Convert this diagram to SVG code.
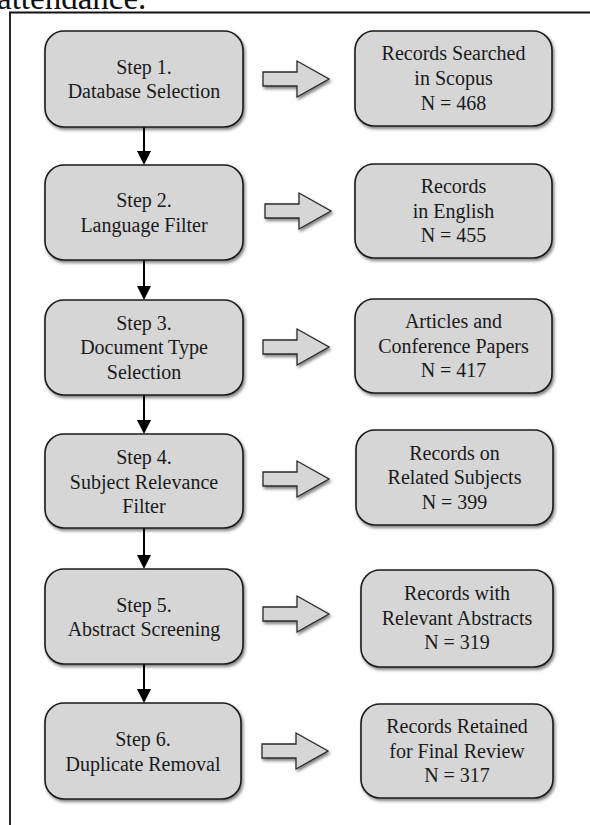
<svg xmlns="http://www.w3.org/2000/svg" width="590" height="825" viewBox="0 0 590 825">
  <defs>
    <style>
      .box { fill: #d6d6d6; stroke: #1a1a1a; stroke-width: 1.6; filter: url(#shadow); }
      .blk { fill: #d6d6d6; stroke: #2a2a2a; stroke-width: 1.3; filter: url(#shadow); }
      .lbl { font-family: "Liberation Serif", "DejaVu Serif", serif; font-size: 20px; fill: #1a1a1a; text-anchor: middle; }
      .conn { stroke: #000; stroke-width: 2; fill: none; marker-end: url(#ah); }
      .frame { stroke: #111; stroke-width: 1.8; fill: none; }
      .head { font-family: "Liberation Serif", "DejaVu Serif", serif; font-size: 33px; fill: #111; }
    </style>
    <filter id="shadow" x="-10%" y="-10%" width="125%" height="130%">
      <feDropShadow dx="1.5" dy="2.2" stdDeviation="1.6" flood-color="#000" flood-opacity="0.5"/>
    </filter>
    <marker id="ah" markerUnits="userSpaceOnUse" markerWidth="14" markerHeight="14" refX="12" refY="7" orient="auto">
      <path d="M0,0 L14,7 L0,14 Z" fill="#000"/>
    </marker>
  </defs>

  <rect x="0" y="0" width="590" height="825" fill="#fff"/>
  <text class="head" x="-3" y="9">attendance.</text>
  <path class="frame" d="M 592 12.5 H 10 V 827"/>

  <g id="connectors">
    <line class="conn" x1="144" y1="127" x2="144" y2="163"/>
    <line class="conn" x1="144" y1="260" x2="144" y2="298"/>
    <line class="conn" x1="144" y1="395" x2="144" y2="432"/>
    <line class="conn" x1="144" y1="528" x2="144" y2="567"/>
    <line class="conn" x1="144" y1="664" x2="144" y2="701"/>
    <path class="blk" d="M263 72 H297 V61 L329 79 L297 97 V86 H263 Z"/>
    <path class="blk" d="M265 204 H299 V193 L331 211 L299 229 V218 H265 Z"/>
    <path class="blk" d="M263 340 H297 V329 L329 347 L297 365 V354 H263 Z"/>
    <path class="blk" d="M263 472 H297 V461 L329 479 L297 497 V486 H263 Z"/>
    <path class="blk" d="M263 607 H297 V596 L329 614 L297 632 V621 H263 Z"/>
    <path class="blk" d="M262 744 H296 V733 L328 751 L296 769 V758 H262 Z"/>
  </g>

  <g id="step1">
    <rect class="box" x="45" y="31" width="198" height="96" rx="19"/>
    <text class="lbl" x="144" y="74">Step 1.</text>
    <text class="lbl" x="144" y="98">Database Selection</text>
  </g>
  <g id="result1">
    <rect class="box" x="355" y="31" width="197" height="95" rx="19"/>
    <text class="lbl" x="453.5" y="60">Records Searched</text>
    <text class="lbl" x="453.5" y="85">in Scopus</text>
    <text class="lbl" x="453.5" y="110">N = 468</text>
  </g>

  <g id="step2">
    <rect class="box" x="45" y="165" width="198" height="95" rx="19"/>
    <text class="lbl" x="144" y="207">Step 2.</text>
    <text class="lbl" x="144" y="231.5">Language Filter</text>
  </g>
  <g id="result2">
    <rect class="box" x="355" y="164" width="197" height="94" rx="19"/>
    <text class="lbl" x="453.5" y="193">Records</text>
    <text class="lbl" x="453.5" y="217.5">in English</text>
    <text class="lbl" x="453.5" y="242">N = 455</text>
  </g>

  <g id="step3">
    <rect class="box" x="45" y="300" width="198" height="95" rx="19"/>
    <text class="lbl" x="144" y="329.5">Step 3.</text>
    <text class="lbl" x="144" y="354">Document Type</text>
    <text class="lbl" x="144" y="378.5">Selection</text>
  </g>
  <g id="result3">
    <rect class="box" x="355" y="299" width="197" height="94" rx="19"/>
    <text class="lbl" x="453.5" y="328">Articles and</text>
    <text class="lbl" x="453.5" y="352.5">Conference Papers</text>
    <text class="lbl" x="453.5" y="377">N = 417</text>
  </g>

  <g id="step4">
    <rect class="box" x="45" y="434" width="198" height="94" rx="19"/>
    <text class="lbl" x="144" y="464">Step 4.</text>
    <text class="lbl" x="144" y="488.5">Subject Relevance</text>
    <text class="lbl" x="144" y="513">Filter</text>
  </g>
  <g id="result4">
    <rect class="box" x="356" y="430" width="197" height="95" rx="19"/>
    <text class="lbl" x="454.5" y="459.5">Records on</text>
    <text class="lbl" x="454.5" y="484">Related Subjects</text>
    <text class="lbl" x="454.5" y="508.5">N = 399</text>
  </g>

  <g id="step5">
    <rect class="box" x="45" y="569" width="198" height="95" rx="19"/>
    <text class="lbl" x="144" y="611.5">Step 5.</text>
    <text class="lbl" x="144" y="636">Abstract Screening</text>
  </g>
  <g id="result5">
    <rect class="box" x="361" y="570" width="192" height="97" rx="19"/>
    <text class="lbl" x="457" y="600">Records with</text>
    <text class="lbl" x="457" y="624.5">Relevant Abstracts</text>
    <text class="lbl" x="457" y="649">N = 319</text>
  </g>

  <g id="step6">
    <rect class="box" x="45" y="703" width="196" height="96" rx="19"/>
    <text class="lbl" x="143" y="746">Step 6.</text>
    <text class="lbl" x="143" y="770.5">Duplicate Removal</text>
  </g>
  <g id="result6">
    <rect class="box" x="361" y="704" width="192" height="94" rx="19"/>
    <text class="lbl" x="457" y="733">Records Retained</text>
    <text class="lbl" x="457" y="757.5">for Final Review</text>
    <text class="lbl" x="457" y="782">N = 317</text>
  </g>
</svg>
